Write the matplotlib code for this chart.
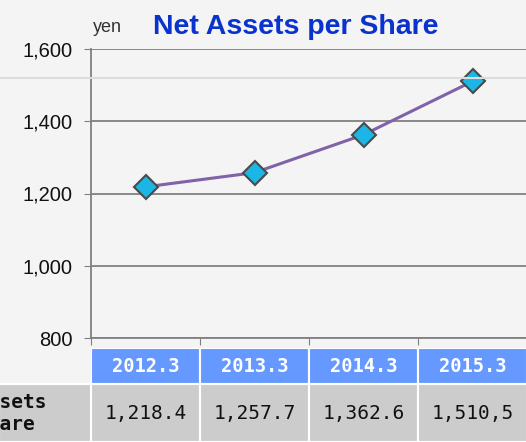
import matplotlib.pyplot as plt
from matplotlib.lines import Line2D

# data
periods = ["2012.3", "2013.3", "2014.3", "2015.3"]
net_assets = [1218.4, 1257.7, 1362.6, 1510.5]
value_labels = ["1,218.4", "1,257.7", "1,362.6", "1,510,5"]
yticks = [800, 1000, 1200, 1400, 1600]
row_label = "Net Assets\nper Share"

W, H = 526, 442
fig = plt.figure(figsize=(W / 100, H / 100), dpi=100)
fig.patch.set_facecolor("#f4f4f4")

# faint background line across the picture
fig.add_artist(Line2D([0, 1], [1 - 78 / H, 1 - 78 / H], color="#dcdcdc", lw=1.5))

# main chart
ax = fig.add_axes([91 / W, 1 - 338 / H, 436 / W, 289 / H])
ax.set_facecolor("none")
x = list(range(len(periods)))
ax.plot(x, net_assets, color="#7f62a8", lw=2.2, zorder=3,
        marker="D", markersize=12, markerfacecolor="#1cb6e6",
        markeredgecolor="#4a4a4a", markeredgewidth=1.5)
ax.set_xlim(-0.5, 3.5)
ax.set_ylim(800, 1600)
ax.set_yticks(yticks)
ax.set_yticklabels([f"{v:,}" for v in yticks], fontsize=14.5,
                   family="Liberation Sans", color="#111111")
ax.set_xticks([-0.5, 0.5, 1.5, 2.5])
ax.set_xticklabels([])
ax.tick_params(axis="y", length=5, color="#808080", pad=8)
ax.tick_params(axis="x", length=5, color="#808080", direction="out")
ax.grid(axis="y", color="#808080", lw=1.3)
for s in ["top", "right"]:
    ax.spines[s].set_visible(False)
ax.spines["left"].set_color("#808080")
ax.spines["bottom"].set_color("#808080")
ax.spines["left"].set_linewidth(1.3)
ax.spines["bottom"].set_linewidth(1.3)

fig.text(93 / W, 1 - 28 / H, "yen", fontsize=13, family="Liberation Sans",
         color="#333333", va="center")
fig.text(296 / W, 1 - 27 / H, "Net Assets per Share", fontsize=20.5,
         family="Liberation Sans", weight="bold", color="#0a32cc",
         ha="center", va="center")

# data table under the chart
tx = fig.add_axes([91 / W, 0, 436 / W, 94 / H])
tx.set_xlim(-0.5, 3.5)
tx.set_ylim(0, 94)
tx.axis("off")
tx.bar(x, 36, bottom=58, width=1, color="#6699ff", edgecolor="white", lw=1.5)
tx.bar(x, 58, bottom=0, width=1, color="#cccccc", edgecolor="white", lw=1.5)
tx.bar(-0.5 - 0.42, 58, bottom=0, width=0.84, color="#cccccc",
       edgecolor="white", lw=1.5, clip_on=False)
for i, (p, v) in enumerate(zip(periods, value_labels)):
    tx.text(i, 76, p, ha="center", va="center", color="white",
            fontsize=13.5, weight="bold", family="DejaVu Sans Mono")
    tx.text(i, 29, v, ha="center", va="center", color="#111111",
            fontsize=14, family="DejaVu Sans Mono")
fig.text(-71 / W, 29 / H, row_label, ha="left", va="center", color="#111111",
         fontsize=14, weight="bold", family="DejaVu Sans Mono",
         linespacing=1.2)

fig.savefig("out.png", dpi=100, facecolor=fig.get_facecolor())
